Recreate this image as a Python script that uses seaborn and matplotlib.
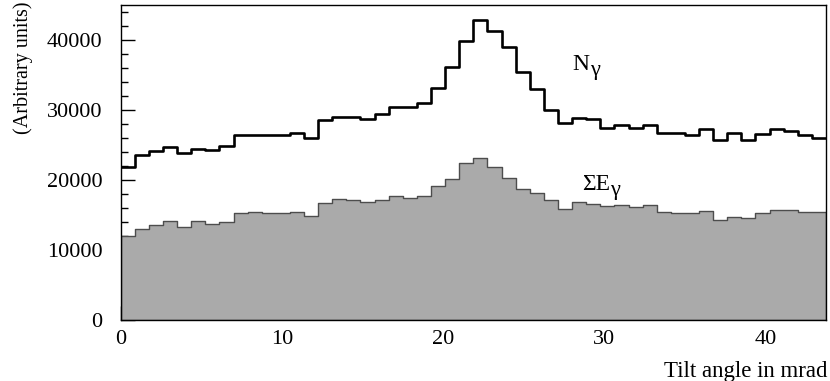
import numpy as np
import pandas as pd
import matplotlib
matplotlib.use("Agg")
import matplotlib.pyplot as plt
import seaborn as sns
from matplotlib.ticker import MultipleLocator

# ---- data ----
angle_min = 0.0          # mrad
angle_max = 43.75        # mrad
n_bins = 50

n_gamma = [21900, 23600, 24200, 24700, 23950, 24500, 24300, 24950, 26400, 26400,
           26400, 26400, 26700, 26050, 28600, 29050, 29050, 28750, 29500, 30400,
           30400, 31100, 33150, 36150, 39900, 42950, 41300, 39050, 35500, 33100,
           30100, 28150, 28900, 28700, 27500, 27850, 27400, 27850, 26800, 26800,
           26450, 27250, 25700, 26750, 25700, 26550, 27350, 27050, 26500, 26050]

sum_e_gamma = [12000, 13000, 13650, 14150, 13250, 14100, 13700, 14050, 15250, 15500,
               15250, 15250, 15500, 14850, 16750, 17300, 17200, 16900, 17100, 17700,
               17450, 17750, 19200, 20100, 22400, 23100, 21850, 20350, 18750, 18150,
               17100, 15900, 16900, 16650, 16300, 16500, 16200, 16450, 15500, 15300,
               15300, 15600, 14300, 14800, 14650, 15250, 15800, 15800, 15450, 15450]

x_ticks = [0, 10, 20, 30, 40]
y_ticks = [0, 10000, 20000, 30000, 40000]

edges = np.linspace(angle_min, angle_max, n_bins + 1)
centers = (edges[:-1] + edges[1:]) / 2
df = pd.DataFrame({"angle": centers, "N": n_gamma, "E": sum_e_gamma})

sns.set_theme(style="white")
plt.rcParams["font.family"] = ["Liberation Serif", "DejaVu Serif"]

fig = plt.figure(figsize=(8.3, 3.81), dpi=100)
ax = fig.add_axes([0.1454, 0.1601, 0.8498, 0.8259])

sns.histplot(data=df, x="angle", weights="E", bins=n_bins,
             binrange=(angle_min, angle_max), element="step",
             fill=True, facecolor="#aaaaaa", edgecolor="#4d4d4d", alpha=1,
             linewidth=1.0, ax=ax)
sns.histplot(data=df, x="angle", weights="N", bins=n_bins,
             binrange=(angle_min, angle_max), element="step",
             fill=False, color="black", linewidth=1.9, ax=ax)

ax.set_xlim(angle_min, angle_max)
ax.set_ylim(0, 45000)
ax.set_xticks(x_ticks)
ax.set_yticks(y_ticks)
ax.set_xticklabels([str(t) for t in x_ticks])
ax.set_yticklabels([str(t) for t in y_ticks])
ax.xaxis.set_minor_locator(MultipleLocator(2))
ax.yaxis.set_minor_locator(MultipleLocator(2000))
ax.tick_params(which="both", direction="in", top=False, right=False,
               bottom=True, left=True, colors="black", width=1.0)
ax.tick_params(which="major", length=10, labelsize=16)
ax.tick_params(which="minor", length=5)
ax.tick_params(axis="x", which="major", pad=7.5)
ax.tick_params(axis="y", which="major", pad=13)

for s in ax.spines.values():
    s.set_color("black")
    s.set_linewidth(1.0)
    s.set_visible(True)

ax.set_xlabel("")
ax.set_ylabel("")
ax.grid(False)

fig.text(23 / 830, 1 - 2 / 381, "(Arbitrary units)", rotation=90,
         ha="center", va="top", fontsize=14.5, color="black")
fig.text(827 / 830, (381 - 377) / 381, "Tilt angle in mrad",
         ha="right", va="baseline", fontsize=16.5, color="black")

# curve labels: main letter plus a lowered gamma
ax.text(28.03, 35714, "N", fontsize=17, ha="left", va="baseline", color="black")
ax.text(29.10, 35000, "γ", fontsize=16, ha="left", va="baseline", color="black")
ax.text(28.63, 18571, "ΣE", fontsize=17, ha="left", va="baseline", color="black")
ax.text(30.35, 17850, "γ", fontsize=16, ha="left", va="baseline", color="black")

fig.savefig("out.png", dpi=100)
